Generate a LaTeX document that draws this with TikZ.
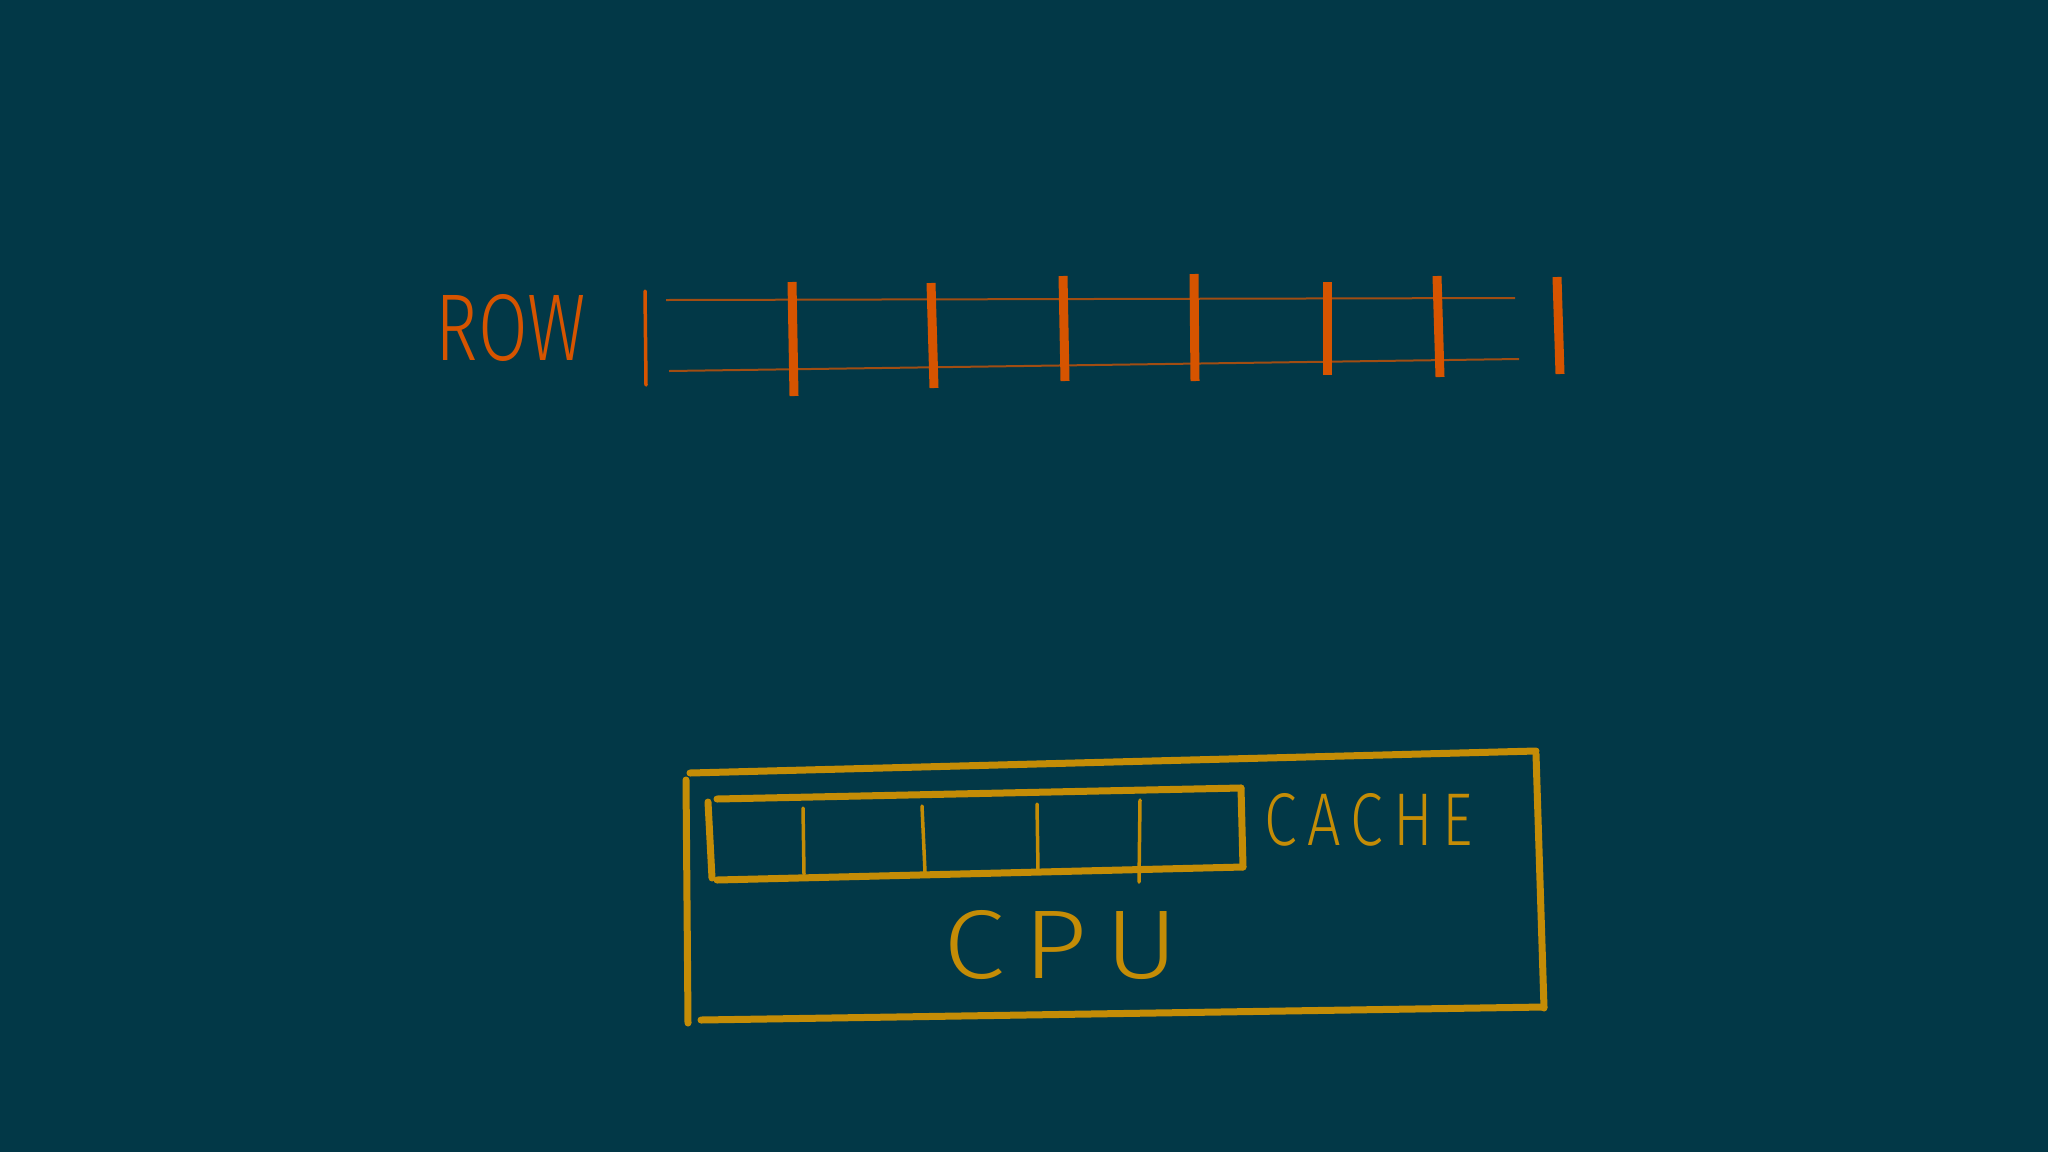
\documentclass[tikz,border=0pt]{standalone}
\usepackage{fontspec}
\setmainfont{Fira Sans}[UprightFont={* Light}]
\definecolor{bgc}{RGB}{2,56,71}
\definecolor{rowc}{RGB}{214,84,0}
\definecolor{cpuc}{RGB}{196,140,6}
\tikzset{
  bar/.style={draw=rowc,line width=9pt},
  thinbar/.style={draw=rowc,line width=3.5pt,line cap=round},
  rail/.style={draw=rowc!75!bgc,line width=2pt},
  frame/.style={draw=cpuc,line width=7pt,line cap=round},
  cell/.style={draw=cpuc,line width=3.5pt,line cap=round},
  label/.style={inner sep=0pt,outer sep=0pt}
}
\begin{document}
\begin{tikzpicture}[x=1pt,y=-1pt]
\useasboundingbox (0,0) rectangle (2048,1152);
\fill[bgc] (0,0) rectangle (2048,1152);
% ROW
\node[label,text=rowc] (rowlbl) at (511,328) {\resizebox{150pt}{66pt}{ROW}};
\draw[thinbar] (645,291) -- (646,385);
\coordinate (rt1) at (666,300);
\coordinate (rt2) at (1515,298);
\coordinate (rb1) at (669,371);
\coordinate (rb2) at (1519,359);
\draw[rail] (rt1) -- (rt2);
\draw[rail] (rb1) -- (rb2);
\draw[bar] (792,282) -- (794,396);
\draw[bar] (931,283) -- (934,388);
\draw[bar] (1063,276) -- (1065,381);
\draw[bar] (1194,274) -- (1195,381);
\draw[bar] (1327,282) -- (1327,375);
\draw[bar] (1437,276) -- (1440,377);
\draw[bar] (1557,277) -- (1560,374);
% CPU
\draw[frame] (690,773) -- (1536,751);
\draw[frame] (1536,754) -- (1544,1008);
\draw[frame] (701,1020) -- (1544,1007);
\draw[frame] (686,780) -- (688,1023);
\draw[frame] (717,799) -- (1241,788);
\draw[frame] (1241,788) -- (1243,867);
\draw[frame] (717,880) -- (1243,867);
\draw[frame] (708,802) -- (712,878);
\draw[cell] (803,808) -- (804,874);
\draw[cell] (922,806) -- (925,872);
\draw[cell] (1037,804) -- (1038,870);
\draw[cell] (1140,800) -- (1139,882);
\node[label,text=cpuc] (cachelbl) at (1369,820) {\resizebox{208pt}{52pt}{C\,A\,C\,H\,E}};
\node[label,text=cpuc] (cpulbl) at (1061,945) {\resizebox{235pt}{68pt}{C\,P\,U}};
\end{tikzpicture}
\end{document}
